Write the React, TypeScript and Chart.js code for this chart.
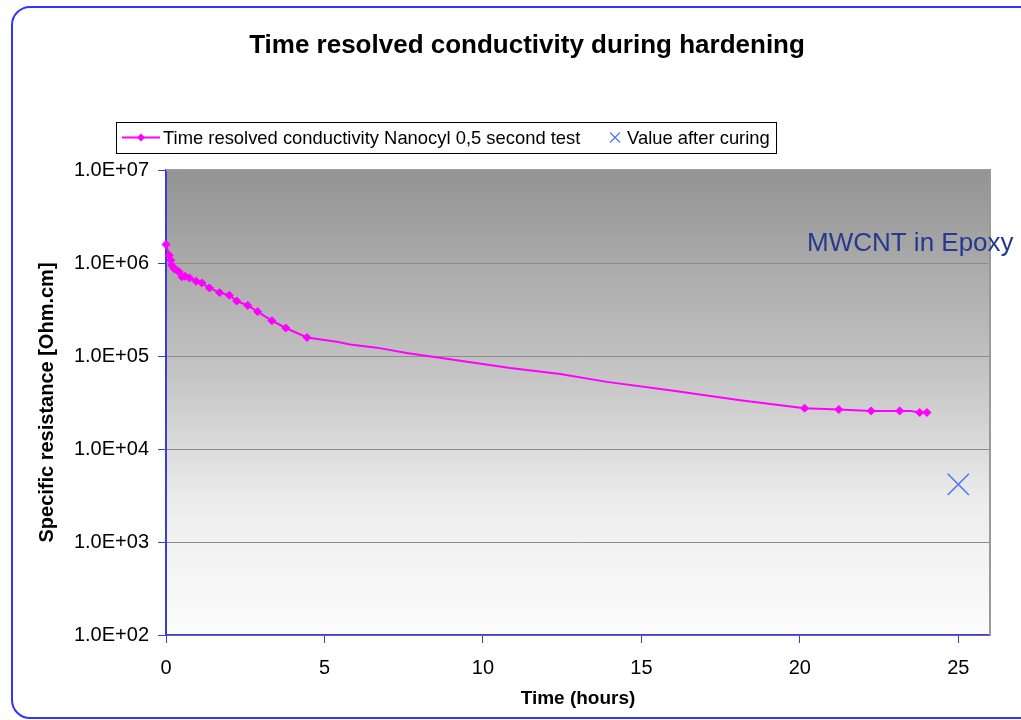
import React, { useEffect, useRef } from "react";
import { Chart, registerables } from "chart.js";

Chart.register(...registerables);

const chartTitle = "Time resolved conductivity during hardening";
const seriesName = "Time resolved conductivity Nanocyl 0,5 second test";
const curedName = "Value after curing";
const annotationText = "MWCNT in Epoxy";
const xAxisTitle = "Time (hours)";
const yAxisTitle = "Specific resistance [Ohm.cm]";

// measured points shown with diamond markers
const markedTimes = [
  0, 0.1, 0.15, 0.18, 0.25, 0.34, 0.42, 0.5, 0.6, 0.74, 0.95, 1.13, 1.37, 1.69, 2.0, 2.23, 2.58, 2.89,
  3.34, 3.78, 4.45, 20.15, 21.23, 22.25, 23.15, 23.78, 24.01,
];
const markedValues = [
  1.58e6, 1.21e6, 1.07e6, 9.45e5, 8.7e5, 8.35e5, 8.0e5, 7.1e5, 7.2e5, 6.9e5, 6.36e5, 6.1e5, 5.4e5,
  4.8e5, 4.5e5, 3.9e5, 3.5e5, 3.0e5, 2.4e5, 2.0e5, 1.58e5, 2.75e4, 2.66e4, 2.57e4, 2.57e4, 2.47e4,
  2.47e4,
];
// curve readings between markers (line only)
const curveTimes = [5.39, 5.81, 6.65, 7.59, 8.96, 10.86, 12.44, 13.91, 16.01, 18.12, 23.48];
const curveValues = [1.42e5, 1.33e5, 1.23e5, 1.08e5, 9.25e4, 7.45e4, 6.4e4, 5.27e4, 4.22e4, 3.35e4, 2.57e4];

const curedTimes = [25];
const curedValues = [4.17e3];

const xTicks = [0, 5, 10, 15, 20, 25];
const yTicks = [1e2, 1e3, 1e4, 1e5, 1e6, 1e7];

const FONT = "'Liberation Sans', Arial, sans-serif";
const MAGENTA = "#ff00ff";
const CROSS_BLUE = "#4a73ff";
const AXIS_BLUE = "#3b3bd6";

const fmtExp = (v: number) => {
  const e = Math.round(Math.log10(v));
  return `1.0E+${String(e).padStart(2, "0")}`;
};

const decorPlugin = {
  id: "decor",
  beforeDraw(chart: any) {
    const { ctx, chartArea: a, width, height } = chart;
    ctx.save();
    ctx.fillStyle = "#ffffff";
    ctx.fillRect(0, 0, width, height);
    // outer rounded frame
    ctx.strokeStyle = "#3333ff";
    ctx.lineWidth = 2;
    ctx.beginPath();
    (ctx as any).roundRect(12, 7, 1040, 711, 18);
    ctx.stroke();
    // plot background gradient
    const g = ctx.createLinearGradient(0, a.top, 0, a.bottom);
    g.addColorStop(0, "#939393");
    g.addColorStop(0.45, "#c6c6c6");
    g.addColorStop(0.72, "#ededed");
    g.addColorStop(1, "#fcfcfc");
    ctx.fillStyle = g;
    ctx.fillRect(a.left, a.top, a.right - a.left, a.bottom - a.top);
    ctx.restore();
  },
  afterDraw(chart: any) {
    const { ctx, chartArea: a } = chart;
    ctx.save();
    // top & right plot border
    ctx.strokeStyle = "#9a9a9a";
    ctx.lineWidth = 2;
    ctx.beginPath();
    ctx.moveTo(a.left, a.top);
    ctx.lineTo(a.right, a.top);
    ctx.lineTo(a.right, a.bottom);
    ctx.stroke();

    // title
    ctx.fillStyle = "#000";
    ctx.font = `bold 26px ${FONT}`;
    ctx.textAlign = "center";
    ctx.textBaseline = "middle";
    ctx.fillText(chartTitle, 527, 46);

    // axis titles
    ctx.font = `bold 19px ${FONT}`;
    ctx.fillText(xAxisTitle, (a.left + a.right) / 2, 699);
    ctx.save();
    ctx.translate(47, (a.top + a.bottom) / 2);
    ctx.rotate(-Math.PI / 2);
    ctx.font = `bold 20px ${FONT}`;
    ctx.fillText(yAxisTitle, 0, 0);
    ctx.restore();

    // legend
    const lx = 116, ly = 122, lw = 660, lh = 31;
    ctx.fillStyle = "#fff";
    ctx.fillRect(lx, ly, lw, lh);
    ctx.strokeStyle = "#000";
    ctx.lineWidth = 1;
    ctx.strokeRect(lx + 0.5, ly + 0.5, lw, lh);
    const cy = ly + lh / 2;
    ctx.strokeStyle = MAGENTA;
    ctx.lineWidth = 2;
    ctx.beginPath();
    ctx.moveTo(122, cy);
    ctx.lineTo(160, cy);
    ctx.stroke();
    ctx.fillStyle = MAGENTA;
    ctx.beginPath();
    ctx.moveTo(141, cy - 4);
    ctx.lineTo(145, cy);
    ctx.lineTo(141, cy + 4);
    ctx.lineTo(137, cy);
    ctx.closePath();
    ctx.fill();
    ctx.fillStyle = "#000";
    ctx.font = `18.4px ${FONT}`;
    ctx.textAlign = "left";
    ctx.fillText(seriesName, 163, cy + 1);
    ctx.strokeStyle = CROSS_BLUE;
    ctx.lineWidth = 1.2;
    ctx.beginPath();
    ctx.moveTo(610, cy - 5);
    ctx.lineTo(620, cy + 5);
    ctx.moveTo(620, cy - 5);
    ctx.lineTo(610, cy + 5);
    ctx.stroke();
    ctx.fillText(curedName, 627, cy + 1);

    // annotation
    ctx.fillStyle = "#26398f";
    ctx.font = `26px ${FONT}`;
    ctx.textAlign = "left";
    ctx.fillText(annotationText, 807, 244);
    ctx.restore();
  },
};

export default function App() {
  const ref = useRef<HTMLCanvasElement>(null);
  useEffect(() => {
    if (!ref.current) return;
    const lineData = markedTimes
      .map((t, i) => ({ x: t, y: markedValues[i] }))
      .concat(curveTimes.map((t, i) => ({ x: t, y: curveValues[i] })))
      .sort((p, q) => p.x - q.x);
    const chart = new Chart(ref.current, {
      type: "line",
      data: {
        datasets: [
          {
            label: seriesName,
            data: lineData,
            borderColor: MAGENTA,
            borderWidth: 2,
            pointRadius: 0,
            tension: 0,
            fill: false,
          },
          {
            label: seriesName + " markers",
            data: markedTimes.map((t, i) => ({ x: t, y: markedValues[i] })),
            showLine: false,
            pointStyle: "rectRot",
            pointRadius: 4,
            backgroundColor: MAGENTA,
            borderColor: MAGENTA,
            borderWidth: 1,
            clip: false,
          },
          {
            label: curedName,
            data: curedTimes.map((t, i) => ({ x: t, y: curedValues[i] })),
            showLine: false,
            pointStyle: "crossRot",
            pointRadius: 15,
            borderColor: CROSS_BLUE,
            borderWidth: 1.5,
            clip: false,
          },
        ],
      },
      options: {
        responsive: false,
        animation: false,
        layout: { padding: { top: 170, right: 31, bottom: 0, left: 0 } },
        plugins: { legend: { display: false }, title: { display: false }, tooltip: { enabled: false } },
        scales: {
          x: {
            type: "linear",
            min: 0,
            max: 26,
            afterBuildTicks: (s: any) => {
              s.ticks = xTicks.map((v) => ({ value: v }));
            },
            afterFit: (s: any) => {
              s.height = 85;
              s.paddingLeft = 0;
              s.paddingRight = 0;
            },
            ticks: {
              color: "#000",
              font: { family: FONT, size: 20 },
              padding: 13,
              maxRotation: 0,
              autoSkip: false,
              callback: (v: any) => String(v),
            },
            grid: { drawOnChartArea: false, drawTicks: true, tickLength: 8, tickColor: AXIS_BLUE },
            border: { color: AXIS_BLUE, width: 1.5 },
          },
          y: {
            type: "logarithmic",
            min: 100,
            max: 1e7,
            afterBuildTicks: (s: any) => {
              s.ticks = yTicks.map((v) => ({ value: v }));
            },
            afterFit: (s: any) => {
              s.width = 166;
              s.paddingTop = 0;
              s.paddingBottom = 0;
            },
            ticks: {
              color: "#000",
              font: { family: FONT, size: 20 },
              padding: 9,
              autoSkip: false,
              callback: (v: any) => fmtExp(Number(v)),
            },
            grid: { color: "#8c8c8c", lineWidth: 1, drawTicks: true, tickLength: 8, tickColor: AXIS_BLUE },
            border: { color: AXIS_BLUE, width: 2 },
          },
        },
      },
      plugins: [decorPlugin],
    });
    return () => chart.destroy();
  }, []);
  return (
    <div style={{ position: "absolute", left: 0, top: 0, width: 1021, height: 720 }}>
      <canvas ref={ref} width={1021} height={720} style={{ display: "block" }} />
    </div>
  );
}
